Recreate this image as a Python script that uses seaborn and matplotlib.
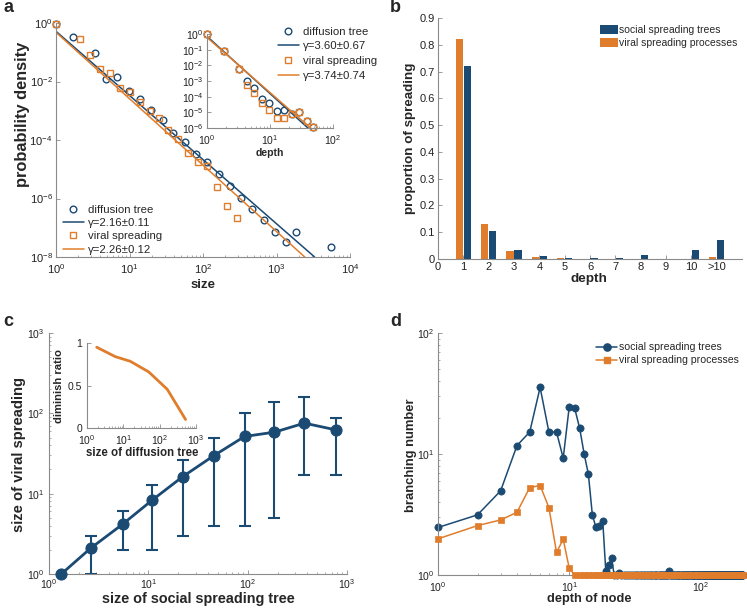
import numpy as np
import pandas as pd
import matplotlib
matplotlib.use("Agg")
import matplotlib.pyplot as plt
import seaborn as sns
from matplotlib.ticker import LogLocator, FixedLocator, NullFormatter, NullLocator
from matplotlib.lines import Line2D
from matplotlib.patches import Patch

# ---------------- data ----------------
# panel a (main): size distribution
a_size_tree = [1, 1.69, 3.42, 4.83, 6.84, 9.77, 13.8, 19.7, 28.2, 39.5, 57, 81.5, 115, 165, 231,
               328, 469, 671, 941, 1330, 1870, 5500]
a_pdf_tree = [0.95, 0.33, 0.094, 0.0125, 0.014, 0.0048, 0.0025, 0.0011, 4.8e-4, 1.8e-4, 8.7e-5,
              3.3e-5, 1.8e-5, 6.9e-6, 2.7e-6, 1.07e-6, 4.5e-7, 1.9e-7, 7.1e-8, 3.3e-8, 7.1e-8, 2.2e-8]
a_size_viral = [1, 2.13, 2.86, 3.92, 5.37, 7.35, 10.1, 13.8, 18.9, 25.1, 33.7, 45.3, 62, 85, 115,
                155, 212, 290]
a_pdf_viral = [0.95, 0.28, 0.078, 0.027, 0.0195, 0.0062, 0.0044, 0.002, 9.6e-4, 5.8e-4, 2.2e-4,
               1.08e-4, 3.5e-5, 1.8e-5, 1.26e-5, 2.4e-6, 5.4e-7, 2.1e-7]
a_fit_tree_x = [1, 3300]
a_fit_tree_y = [0.52, 1e-8]
a_fit_viral_x = [1, 2420]
a_fit_viral_y = [0.48, 1e-8]
a_labels = ["diffusion tree", "γ=2.16±0.11", "viral spreading", "γ=2.26±0.12"]

# panel a (inset): depth distribution
ai_depth = [1, 1.85, 3.2, 4.3, 5.5, 7.4, 9.5, 12.8, 16.5, 22, 28.5, 38, 49]
ai_pdf_tree = [1.0, 0.085, 6e-3, 1e-3, 3.6e-4, 7e-5, 4e-5, 1.2e-5, 1.4e-5, 7.9e-6, 1.05e-5, 2.8e-6, 1.1e-6]
ai_pdf_viral = [1.0, 0.085, 5.5e-3, 5.6e-4, 1.7e-4, 4.2e-5, 1.4e-5, 4.3e-6, 4.1e-6, 7.5e-6, 1.05e-5, 2.8e-6, 1.1e-6]
ai_fit_tree_x = [1, 40]
ai_fit_tree_y = [0.71, 1e-6]
ai_fit_viral_x = [1, 44]
ai_fit_viral_y = [0.6, 1e-6]
ai_labels = ["diffusion tree", "γ=3.60±0.67", "viral spreading", "γ=3.74±0.74"]

# panel b: proportion by depth
b_depth = [1, 2, 3, 4, 5, 6, 7, 8, 9, 10, 11]
b_social = [0.72, 0.105, 0.035, 0.01, 0.005, 0.002, 0.003, 0.015, 0.001, 0.035, 0.07]
b_viral = [0.82, 0.13, 0.03, 0.008, 0.002, 0.0, 0.001, 0.0, 0.0, 0.0, 0.006]
b_xticklabels = ["0", "1", "2", "3", "4", "5", "6", "7", "8", "9", "10", ">10"]
b_yticklabels = ["0", "0.1", "0.2", "0.3", "0.4", "0.5", "0.6", "0.7", "0.8", "0.9"]
series_names = ["social spreading trees", "viral spreading processes"]

# panel c: viral size vs social tree size
c_x = [1.33, 2.62, 5.5, 11, 22.2, 45.4, 93, 186, 373, 769]
c_y = [1.0, 2.09, 4.16, 8.36, 16.3, 29.6, 51.5, 58.3, 75.5, 62.3]
c_lo = [1.0, 1.0, 2.0, 2.0, 3.0, 4.0, 4.0, 5.0, 17.0, 17.0]
c_hi = [1.0, 3.0, 6.0, 13.0, 26.0, 50.0, 100.0, 140.0, 158.0, 87.0]
ci_x = [1.85, 5.97, 15.5, 50, 162, 517]
ci_y = [0.95, 0.84, 0.785, 0.66, 0.455, 0.10]

# panel d: branching number vs depth
d_social_depth = list(range(1, 22)) + list(range(22, 211))
d_social_val = [2.47, 3.14, 4.96, 11.75, 15.2, 35.5, 15.2, 15.2, 9.24, 24.5, 23.9, 16.4, 10.0, 6.8,
                3.14, 2.47, 2.54, 2.82, 1.07, 1.2, 1.39] + [1.0] * len(range(22, 211))
d_social_bumps = {24: 1.03, 58: 1.07}
d_viral_depth = list(range(1, 11)) + list(range(11, 211))
d_viral_val = [1.99, 2.56, 2.85, 3.3, 5.28, 5.49, 3.61, 1.54, 1.97, 1.14] + [1.0] * len(range(11, 211))

# ---------------- style ----------------
BLUE = "#1b4a73"
ORANGE = "#e07d2c"
SPINE = "#8a8a8a"

sns.set_theme(style="ticks")
plt.rcParams.update({
    "font.family": ["Liberation Sans", "DejaVu Sans"],
    "mathtext.fontset": "custom",
    "mathtext.rm": "Liberation Sans",
    "mathtext.it": "Liberation Sans:italic",
    "mathtext.bf": "Liberation Sans:bold",
    "xtick.direction": "in",
    "ytick.direction": "in",
    "xtick.labelsize": 7.5,
    "ytick.labelsize": 7.5,
    "xtick.major.pad": 2.0,
    "ytick.major.pad": 2.5,
    "axes.edgecolor": SPINE,
    "xtick.color": SPINE,
    "ytick.color": SPINE,
    "xtick.labelcolor": "#222222",
    "ytick.labelcolor": "#222222",
    "xtick.major.size": 3,
    "ytick.major.size": 3,
    "xtick.minor.size": 1.6,
    "ytick.minor.size": 1.6,
    "xtick.major.width": 0.6,
    "ytick.major.width": 0.6,
    "xtick.minor.width": 0.5,
    "ytick.minor.width": 0.5,
    "axes.linewidth": 0.8,
    "legend.fontsize": 8.2,
})

W, H = 747, 608
fig = plt.figure(figsize=(W / 100, H / 100), dpi=100)


def add_ax(l, t, r, b):
    return fig.add_axes([l / W, 1 - b / H, (r - l) / W, (b - t) / H])


def ftext(x, y, s, **kw):
    fig.text(x / W, 1 - y / H, s, **kw)


def fpos(x, y):
    return (x / W, 1 - y / H)


def despine(ax):
    ax.spines["top"].set_visible(False)
    ax.spines["right"].set_visible(False)


def logx(ax, lo, hi, minor=True):
    ax.set_xscale("log")
    ax.set_xlim(lo, hi)
    ax.xaxis.set_major_locator(LogLocator(base=10, numticks=20))
    if minor:
        ax.xaxis.set_minor_locator(LogLocator(base=10, subs=np.arange(2, 10), numticks=50))
    else:
        ax.xaxis.set_minor_locator(NullLocator())
    ax.xaxis.set_minor_formatter(NullFormatter())


def logy(ax, lo, hi, minor=True, step=1):
    ax.set_yscale("log")
    ax.set_ylim(lo, hi)
    exps = np.arange(np.log10(lo), np.log10(hi) + 0.5, step)
    ax.yaxis.set_major_locator(FixedLocator(10.0 ** exps))
    if minor:
        ax.yaxis.set_minor_locator(LogLocator(base=10, subs=np.arange(2, 10), numticks=50))
    else:
        ax.yaxis.set_minor_locator(NullLocator())
    ax.yaxis.set_minor_formatter(NullFormatter())


def markers(ax, x, y, marker, color, ms, filled=False, **kw):
    sns.lineplot(x=x, y=y, ax=ax, linestyle="", marker=marker, markersize=ms,
                 markerfacecolor=(color if filled else "none"), markeredgecolor=color,
                 markeredgewidth=1.0, color=color, sort=False, estimator=None,
                 clip_on=False, **kw)


def line(ax, x, y, color, lw, **kw):
    sns.lineplot(x=x, y=y, ax=ax, color=color, linewidth=lw, sort=False, estimator=None, **kw)


# ---------------- panel a ----------------
axA = add_ax(56, 23, 350, 257)
despine(axA)
markers(axA, a_size_tree, a_pdf_tree, "o", BLUE, 4.8)
line(axA, a_fit_tree_x, a_fit_tree_y, BLUE, 1.1)
markers(axA, a_size_viral, a_pdf_viral, "s", ORANGE, 4.4)
line(axA, a_fit_viral_x, a_fit_viral_y, ORANGE, 1.1)
logx(axA, 1, 1e4)
logy(axA, 1e-8, 1, minor=False, step=2)
axA.tick_params(axis="both", labelsize=8)
axA.tick_params(axis="x", pad=3.5)
axA.set_xlabel("")
axA.set_ylabel("")
hA = [Line2D([], [], ls="", marker="o", ms=4.8, mfc="none", mec=BLUE, mew=1.0),
      Line2D([], [], color=BLUE, lw=1.1),
      Line2D([], [], ls="", marker="s", ms=4.4, mfc="none", mec=ORANGE, mew=1.0),
      Line2D([], [], color=ORANGE, lw=1.1)]
fig.legend(hA, a_labels, loc="upper left", bbox_to_anchor=fpos(58, 200), frameon=False,
           handlelength=1.9, handletextpad=0.3, labelspacing=0.3, borderaxespad=0.0,
           numpoints=1)

# inset of a
axAi = add_ax(207, 34, 333, 128)
despine(axAi)
axAi.patch.set_alpha(0)
markers(axAi, ai_depth, ai_pdf_tree, "o", BLUE, 4.8)
line(axAi, ai_fit_tree_x, ai_fit_tree_y, BLUE, 1.1)
markers(axAi, ai_depth, ai_pdf_viral, "s", ORANGE, 4.4)
line(axAi, ai_fit_viral_x, ai_fit_viral_y, ORANGE, 1.1)
logx(axAi, 1, 100)
logy(axAi, 1e-6, 1, minor=False)
axAi.tick_params(axis="x", pad=3.5)
axAi.set_xlabel("")
axAi.set_ylabel("")
fig.legend(hA, ai_labels, loc="upper left", bbox_to_anchor=fpos(273, 22), frameon=False,
           handlelength=1.9, handletextpad=0.3, labelspacing=0.42, borderaxespad=0.0,
           numpoints=1)

ftext(203, 285, "size", ha="center", va="center", fontsize=9.5, fontweight="bold")
ftext(23, 114, "probability density", ha="center", va="center", rotation=90,
      fontsize=11.8, fontweight="bold")
ftext(270, 153, "depth", ha="center", va="center", fontsize=7.6, fontweight="bold")

# ---------------- panel b ----------------
axB = add_ax(438, 18, 742, 259)
despine(axB)
dfb = pd.DataFrame({
    "depth": b_depth * 2,
    "prop": b_viral + b_social,
    "series": [series_names[1]] * len(b_depth) + [series_names[0]] * len(b_depth),
})
sns.barplot(data=dfb, x="depth", y="prop", hue="series", native_scale=True,
            hue_order=[series_names[1], series_names[0]],
            palette={series_names[0]: BLUE, series_names[1]: ORANGE},
            width=0.62, gap=0.08, saturation=1, ax=axB, legend=False, linewidth=0,
            errorbar=None)
axB.set_xlim(0, 12)
axB.set_ylim(0, 0.9)
axB.set_xticks(range(0, 12))
axB.set_xticklabels(b_xticklabels)
axB.set_yticks(np.arange(0, 0.95, 0.1))
axB.set_yticklabels(b_yticklabels)
axB.tick_params(axis="both", labelsize=8)
axB.set_xlabel("")
axB.set_ylabel("")
hB = [Patch(facecolor=BLUE, edgecolor="none"), Patch(facecolor=ORANGE, edgecolor="none")]
fig.legend(hB, series_names, loc="upper left", bbox_to_anchor=fpos(596, 21), frameon=False,
           handlelength=1.7, handleheight=1.0, handletextpad=0.15, labelspacing=0.25,
           borderaxespad=0.0, fontsize=7.5)
ftext(589, 279, "depth", ha="center", va="center", fontsize=9.7, fontweight="bold")
ftext(410, 138, "proportion of spreading", ha="center", va="center", rotation=90,
      fontsize=9.6, fontweight="bold")

# ---------------- panel c ----------------
axC = add_ax(49, 333, 347, 574)
despine(axC)
c_err = [np.array(c_y) - np.array(c_lo), np.array(c_hi) - np.array(c_y)]
axC.errorbar(c_x[1:], c_y[1:], yerr=[c_err[0][1:], c_err[1][1:]], fmt="none",
             ecolor=BLUE, elinewidth=1.5, capsize=4.5, capthick=1.5, zorder=2)
sns.lineplot(x=c_x, y=c_y, ax=axC, color=BLUE, linewidth=2.0, marker="o", markersize=8,
             markeredgecolor=BLUE, markerfacecolor=BLUE, sort=False, estimator=None,
             clip_on=False, zorder=3)
logx(axC, 1, 1000)
logy(axC, 1, 1000)
axC.tick_params(axis="x", pad=2.0)
axC.tick_params(axis="y", pad=3.5)
axC.set_xlabel("")
axC.set_ylabel("")
ftext(198, 599, "size of social spreading tree", ha="center", va="center", fontsize=10.4,
      fontweight="bold")
ftext(19, 455, "size of viral spreading", ha="center", va="center", rotation=90,
      fontsize=10.6, fontweight="bold")

axCi = add_ax(87, 343, 196, 428)
despine(axCi)
axCi.patch.set_alpha(0)
line(axCi, ci_x, ci_y, ORANGE, 2.0)
logx(axCi, 1, 1000)
axCi.set_ylim(0, 1)
axCi.set_yticks([0, 0.5, 1])
axCi.set_yticklabels(["0", "0.5", "1"])
axCi.tick_params(axis="x", pad=3.5)
axCi.tick_params(axis="y", pad=3.5)
axCi.set_xlabel("")
axCi.set_ylabel("")
ftext(142, 453, "size of diffusion tree", ha="center", va="center", fontsize=8.3,
      fontweight="bold")
ftext(59, 386, "diminish ratio", ha="center", va="center", rotation=90, fontsize=8.1,
      fontweight="bold")

# ---------------- panel d ----------------
axD = add_ax(438, 333, 743, 575)
despine(axD)
d_social_plot = [d_social_bumps.get(d, v) for d, v in zip(d_social_depth, d_social_val)]
sns.lineplot(x=d_social_depth, y=d_social_plot, ax=axD, color=BLUE, linewidth=1.1, marker="o",
             markersize=5.2, markeredgecolor=BLUE, markerfacecolor=BLUE, markeredgewidth=0.5,
             sort=False, estimator=None, clip_on=False, zorder=2)
sns.lineplot(x=d_viral_depth, y=d_viral_val, ax=axD, color=ORANGE, linewidth=1.1, marker="s",
             markersize=4.4, markeredgecolor=ORANGE, markerfacecolor=ORANGE, markeredgewidth=0.5,
             sort=False, estimator=None, clip_on=False, zorder=3)
logx(axD, 1, 211)
logy(axD, 1, 100)
axD.tick_params(axis="x", pad=3.5)
axD.set_xlabel("")
axD.set_ylabel("")
hD = [Line2D([], [], color=BLUE, lw=1.1, marker="o", ms=5.2),
      Line2D([], [], color=ORANGE, lw=1.1, marker="s", ms=4.4)]
fig.legend(hD, series_names, loc="upper left", bbox_to_anchor=fpos(592, 338), frameon=False,
           handlelength=2.0, handletextpad=0.2, labelspacing=0.3, borderaxespad=0.0,
           fontsize=7.6)
ftext(589, 599, "depth of node", ha="center", va="center", fontsize=9.2, fontweight="bold")
ftext(411, 455, "branching number", ha="center", va="center", rotation=90,
      fontsize=9.4, fontweight="bold")

# panel letters
for x, y, s in [(8, 8, "a"), (395, 8, "b"), (8, 322, "c"), (396, 322, "d")]:
    ftext(x, y, s, ha="center", va="center", fontsize=13, fontweight="bold")

fig.savefig("out.png", dpi=100)
